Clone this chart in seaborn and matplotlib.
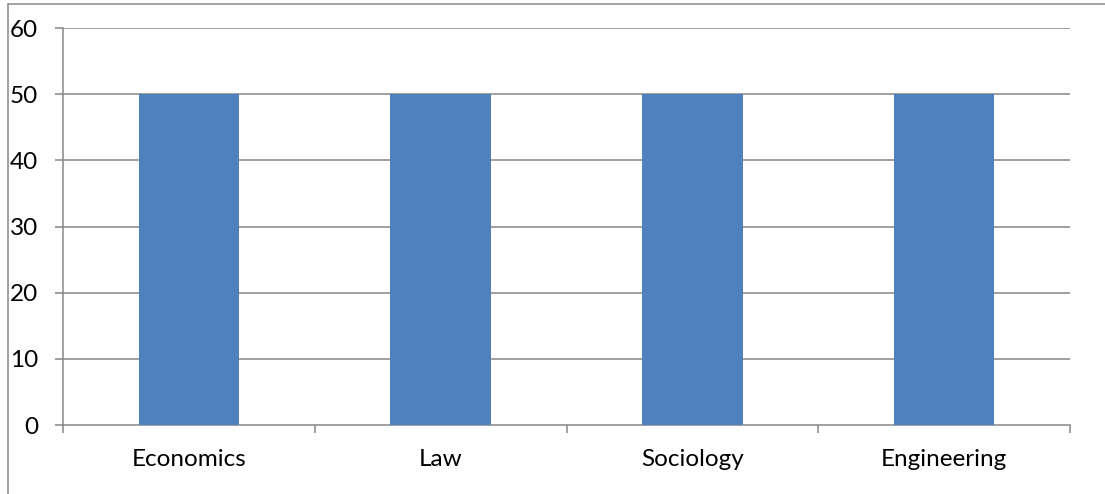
import matplotlib
matplotlib.use("Agg")
import matplotlib.pyplot as plt
from matplotlib.lines import Line2D
import seaborn as sns
import pandas as pd
import numpy as np

categories = ["Economics", "Law", "Sociology", "Engineering"]
values = [50, 50, 50, 50]
yticks = [0, 10, 20, 30, 40, 50, 60]

sns.set_theme(style="white")
plt.rcParams['font.family'] = ['Lato', 'DejaVu Sans']

W, H = 1105, 494
fig = plt.figure(figsize=(W / 100, H / 100), dpi=100)
ax = fig.add_axes([63 / W, 1 - 425 / H, (1070 - 63) / W, (425 - 28) / H])

df = pd.DataFrame({"cat": categories, "val": values})
sns.barplot(data=df, x="cat", y="val", color="#4F81BD", saturation=1, width=0.4,
            linewidth=0, edgecolor="none", ax=ax, zorder=3)

grid_c = "#868686"
ax.set_xlim(-0.5, len(categories) - 0.5)
ax.set_ylim(0, 60)
ax.set_yticks(yticks)
ax.set_yticklabels([str(v) for v in yticks])
for y in yticks[1:]:
    ax.axhline(y, color=grid_c, lw=1.1, zorder=1)

for s in ["top", "right"]:
    ax.spines[s].set_visible(False)
for s in ["left", "bottom"]:
    ax.spines[s].set_color(grid_c)
    ax.spines[s].set_linewidth(1.1)

ax.set_xlabel("")
ax.set_ylabel("")
ax.tick_params(axis="y", which="major", length=6, width=1.1, color=grid_c, pad=12,
               labelsize=17.5, labelcolor="black", left=True)
ax.tick_params(axis="x", which="major", length=0, pad=17, labelsize=17.5, labelcolor="black")
ax.set_xticks(np.arange(-0.5, len(categories)), minor=True)
ax.tick_params(axis="x", which="minor", length=6, width=1.1, color=grid_c, bottom=True)

# outer chart border (partially visible)
fig.add_artist(Line2D([8 / W, 8 / W], [0, 1 - 4 / H], color="#868686", lw=1.1, transform=fig.transFigure))
fig.add_artist(Line2D([8 / W, 1], [1 - 4 / H, 1 - 4 / H], color="#868686", lw=1.1, transform=fig.transFigure))

fig.savefig("out.png", dpi=100, facecolor="white")
